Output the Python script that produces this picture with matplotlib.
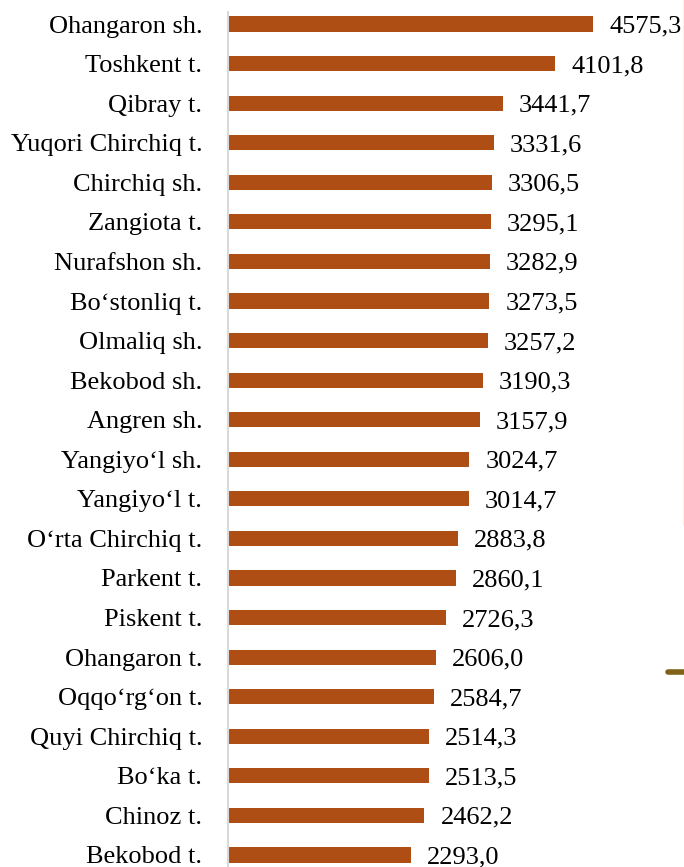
import matplotlib.pyplot as plt
from matplotlib.lines import Line2D

# districts (top to bottom) and their values
districts = ['Ohangaron sh.', 'Toshkent t.', 'Qibray t.', 'Yuqori Chirchiq t.',
             'Chirchiq sh.', 'Zangiota t.', 'Nurafshon sh.', 'Bo\u2018stonliq t.',
             'Olmaliq sh.', 'Bekobod sh.', 'Angren sh.', 'Yangiyo\u2018l sh.',
             'Yangiyo\u2018l t.', 'O\u2018rta Chirchiq t.', 'Parkent t.', 'Piskent t.',
             'Ohangaron t.', 'Oqqo\u2018rg\u2018on t.', 'Quyi Chirchiq t.', 'Bo\u2018ka t.',
             'Chinoz t.', 'Bekobod t.']
values = [4575.3, 4101.8, 3441.7, 3331.6, 3306.5, 3295.1, 3282.9, 3273.5,
          3257.2, 3190.3, 3157.9, 3024.7, 3014.7, 2883.8, 2860.1, 2726.3,
          2606.0, 2584.7, 2514.3, 2513.5, 2462.2, 2293.0]

plt.rcParams['font.family'] = ['Liberation Serif', 'DejaVu Serif']
bar_color = '#AE4E15'

fig = plt.figure(figsize=(6.84, 8.67), dpi=100)
W, H = 684, 867
ax = fig.add_axes([228 / W, 0, 456 / W, 855 / H])

pos = list(range(len(values)))
ax.barh(pos, values, height=0.38, color=bar_color)
for p, v in zip(pos, values):
    ax.annotate(f'{v:.1f}'.replace('.', ','), (v, p), xytext=(11.5, 0),
                textcoords='offset points', va='center_baseline', ha='left',
                fontsize=19, color='black')

ax.set_xlim(0, 456 / 0.0798)
step = 39.57
ax.set_ylim(21 + 12 / step, -12 / step)
ax.set_yticks(pos)
ax.set_yticklabels(districts, fontsize=19)
ax.tick_params(axis='y', length=0, pad=18.5)
ax.set_xticks([])
for s in ['top', 'right', 'bottom']:
    ax.spines[s].set_visible(False)
ax.spines['left'].set_color('#D9D9D9')
ax.spines['left'].set_linewidth(1.5)

# bits of neighbouring graphics left in the crop
fig.add_artist(Line2D([683.5 / W, 683.5 / W], [1, 1 - 525 / H], color='#FDEEE6', lw=1.5))
fig.add_artist(Line2D([668 / W, 686 / W], [1 - 672 / H, 1 - 672 / H], color='#7F6118',
                      lw=4, solid_capstyle='round'))

fig.savefig('out.png', dpi=100)
